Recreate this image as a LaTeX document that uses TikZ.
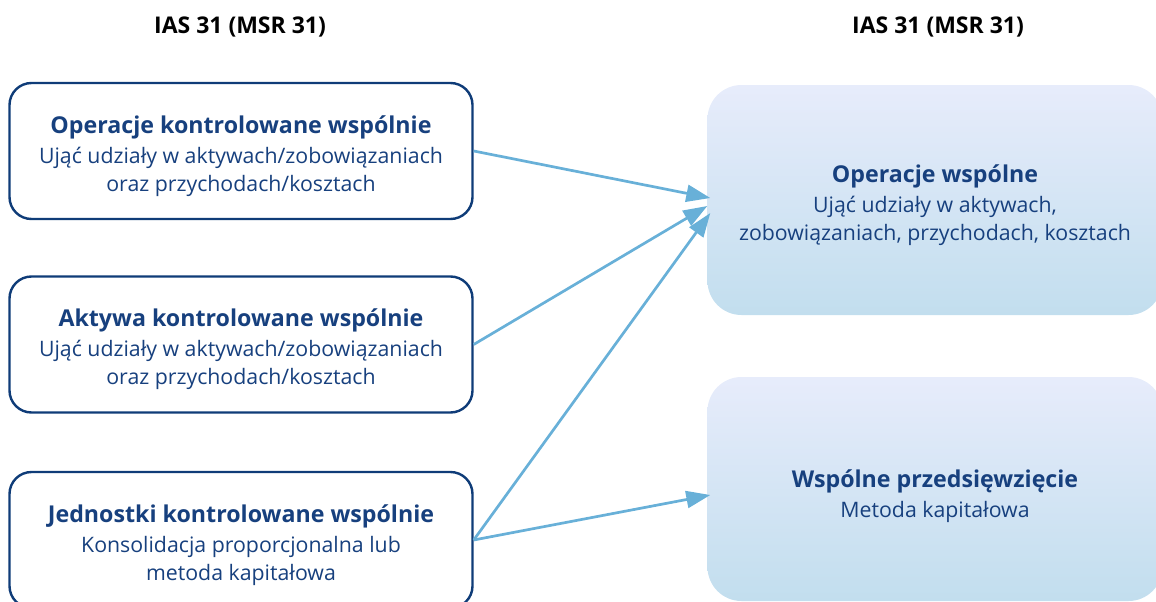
\documentclass[tikz,border=0pt]{standalone}
\usepackage{fontspec}
\setmainfont{Open Sans}
\usetikzlibrary{arrows.meta}
\definecolor{navy}{HTML}{17407E}
\definecolor{edge}{HTML}{0F3C78}
\definecolor{arr}{HTML}{68B0D8}
\definecolor{gtop}{HTML}{E7ECFB}
\definecolor{gbot}{HTML}{C2DEEE}
\newcommand{\ttl}[1]{{\fontsize{23.2}{28}\selectfont\bfseries #1}}
\tikzset{
  hdr/.style={font=\fontsize{23}{26}\selectfont\bfseries, text=black},
  leftbox/.style={draw=edge, line width=2.4pt, rounded corners=22pt, fill=white,
    minimum width=463pt, minimum height=136pt, inner sep=0pt},
  rightbox/.style={rounded corners=34pt, top color=gtop, bottom color=gbot, draw=none,
    minimum width=455pt, inner sep=0pt},
  txt/.style={align=center, text=navy, font=\fontsize{21.3}{28}\selectfont, inner sep=0pt},
  conn/.style={draw=arr, line width=2.7pt, -{Triangle[length=24pt,width=17pt]}},
}
\begin{document}
\begin{tikzpicture}[x=1pt,y=-1pt]
\useasboundingbox (0,0) rectangle (1156,602);
\clip (0,0) rectangle (1156,602);
\node[hdr] (h1) at (240,27) {IAS 31 (MSR 31)};
\node[hdr] (h2) at (938,27) {IAS 31 (MSR 31)};
\node[leftbox] (b1) at (241,151) {};
\node[leftbox] (b2) at (241,344.5) {};
\node[leftbox] (b3) at (241,540) {};
\node[rightbox, minimum height=230pt] (ra) at (935,200) {};
\node[rightbox, minimum height=224pt] (rb) at (935,489) {};
\node[txt] (b1t) at ([yshift=-5pt]b1.center) {\ttl{Operacje kontrolowane wspólnie}\\[2pt]Ująć udziały w aktywach/zobowiązaniach\\oraz przychodach/kosztach};
\node[txt] (b2t) at ([yshift=-5pt]b2.center) {\ttl{Aktywa kontrolowane wspólnie}\\[2pt]Ująć udziały w aktywach/zobowiązaniach\\oraz przychodach/kosztach};
\node[txt] (b3t) at ([yshift=-5pt]b3.center) {\ttl{Jednostki kontrolowane wspólnie}\\[2pt]Konsolidacja proporcjonalna lub\\metoda kapitałowa};
\node[txt] (rat) at ([yshift=-5pt]ra.center) {\ttl{Operacje wspólne}\\[2pt]Ująć udziały w aktywach,\\zobowiązaniach, przychodach, kosztach};
\node[txt] (rbt) at ([yshift=-7pt]rb.center) {\ttl{Wspólne przedsięwzięcie}\\[2pt]Metoda kapitałowa};
\draw[conn] (b1.east) -- ([xshift=3pt,yshift=2pt]ra.west);
\draw[conn] (b2.east) -- ([yshift=-6pt]ra.west);
\draw[conn] (b3.east) -- ([xshift=3pt,yshift=-13pt]ra.west);
\draw[conn] (b3.east) -- ([xshift=3pt,yshift=-6pt]rb.west);
\end{tikzpicture}
\end{document}
